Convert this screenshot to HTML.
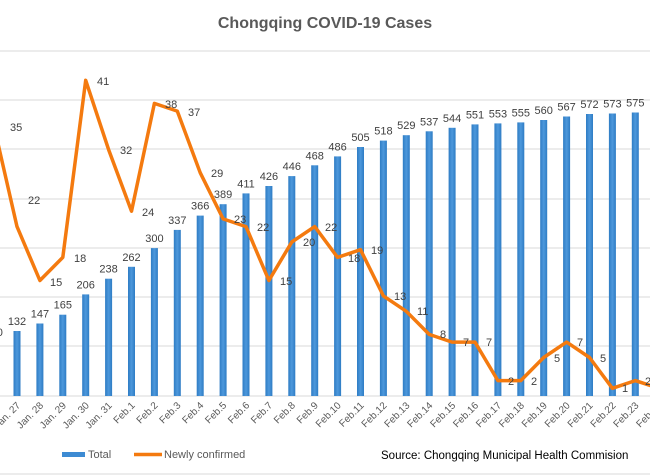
<!DOCTYPE html>
<html><head><meta charset="utf-8"><style>
body{margin:0;background:#fff;}
svg{display:block;font-family:"Liberation Sans",sans-serif;}
.bl{font-size:11px;fill:#404040;text-anchor:middle;}
.ll{font-size:11px;fill:#404040;}
.xl{font-size:10px;fill:#595959;text-anchor:end;}
</style></head><body>
<svg width="650" height="475" viewBox="0 0 650 475">
<defs><linearGradient id="g" x1="0" x2="1"><stop offset="0" stop-color="#2e7cc4"/><stop offset="0.5" stop-color="#4d98dc"/><stop offset="1" stop-color="#2e7cc4"/></linearGradient></defs>
<text x="325" y="28" text-anchor="middle" font-size="16" font-weight="bold" fill="#595959">Chongqing  COVID-19 Cases</text>
<g stroke="#d9d9d9" stroke-width="1">
<line x1="0" x2="650" y1="51" y2="51"/><line x1="0" x2="650" y1="100" y2="100"/><line x1="0" x2="650" y1="149" y2="149"/><line x1="0" x2="650" y1="199" y2="199"/><line x1="0" x2="650" y1="248" y2="248"/><line x1="0" x2="650" y1="297" y2="297"/><line x1="0" x2="650" y1="346" y2="346"/><line x1="0" x2="650" y1="396" y2="396"/>
</g>
<g fill="url(#g)">
<rect x="-9.4" y="342" width="7" height="54"/>
<rect x="13.5" y="331" width="7" height="65"/>
<rect x="36.4" y="323.5" width="7" height="72.5"/>
<rect x="59.3" y="314.7" width="7" height="81.3"/>
<rect x="82.2" y="294.4" width="7" height="101.6"/>
<rect x="105.1" y="278.7" width="7" height="117.3"/>
<rect x="128" y="266.8" width="7" height="129.2"/>
<rect x="150.9" y="248.1" width="7" height="147.9"/>
<rect x="173.8" y="229.9" width="7" height="166.1"/>
<rect x="196.7" y="215.6" width="7" height="180.4"/>
<rect x="219.6" y="204.2" width="7" height="191.8"/>
<rect x="242.5" y="193.4" width="7" height="202.6"/>
<rect x="265.4" y="186" width="7" height="210"/>
<rect x="288.3" y="176.1" width="7" height="219.9"/>
<rect x="311.2" y="165.3" width="7" height="230.7"/>
<rect x="334.1" y="156.4" width="7" height="239.6"/>
<rect x="357" y="147" width="7" height="249"/>
<rect x="379.9" y="140.6" width="7" height="255.4"/>
<rect x="402.8" y="135.2" width="7" height="260.8"/>
<rect x="425.7" y="131.3" width="7" height="264.7"/>
<rect x="448.6" y="127.8" width="7" height="268.2"/>
<rect x="471.5" y="124.4" width="7" height="271.6"/>
<rect x="494.4" y="123.4" width="7" height="272.6"/>
<rect x="517.3" y="122.4" width="7" height="273.6"/>
<rect x="540.2" y="120" width="7" height="276"/>
<rect x="563.1" y="116.5" width="7" height="279.5"/>
<rect x="586" y="114" width="7" height="282"/>
<rect x="608.9" y="113.5" width="7" height="282.5"/>
<rect x="631.8" y="112.5" width="7" height="283.5"/>
<rect x="654.7" y="111.5" width="7" height="284.5"/>
</g>
<g class="bl">
<text x="-5.9" y="336">110</text>
<text x="17" y="325">132</text>
<text x="39.9" y="317.5">147</text>
<text x="62.8" y="308.7">165</text>
<text x="85.7" y="288.4">206</text>
<text x="108.6" y="272.7">238</text>
<text x="131.5" y="260.8">262</text>
<text x="154.4" y="242.1">300</text>
<text x="177.3" y="223.9">337</text>
<text x="200.2" y="209.6">366</text>
<text x="223.1" y="198.2">389</text>
<text x="246" y="187.4">411</text>
<text x="268.9" y="180">426</text>
<text x="291.8" y="170.1">446</text>
<text x="314.7" y="159.3">468</text>
<text x="337.6" y="150.4">486</text>
<text x="360.5" y="141">505</text>
<text x="383.4" y="134.6">518</text>
<text x="406.3" y="129.2">529</text>
<text x="429.2" y="125.3">537</text>
<text x="452.1" y="121.8">544</text>
<text x="475" y="118.4">551</text>
<text x="497.9" y="117.4">553</text>
<text x="520.8" y="116.4">555</text>
<text x="543.7" y="114">560</text>
<text x="566.6" y="110.5">567</text>
<text x="589.5" y="108">572</text>
<text x="612.4" y="107.5">573</text>
<text x="635.3" y="106.5">575</text>
</g>
<polyline fill="none" stroke="#f47a0f" stroke-width="3.5" stroke-linejoin="round" points="-5.9,126.5 17,226.6 39.9,280.5 62.8,257.4 85.7,80.3 108.6,149.6 131.5,211.2 154.4,103.4 177.3,111.1 200.2,172.7 223.1,218.9 246,226.6 268.9,280.5 291.8,242 314.7,226.6 337.6,257.4 360.5,249.7 383.4,295.9 406.3,311.3 429.2,334.4 452.1,342.1 475,342.1 497.9,380.6 520.8,380.6 543.7,357.5 566.6,342.1 589.5,357.5 612.4,388.3 635.3,380.6 658.2,388"/>
<g class="ll">
<text x="10" y="131">35</text>
<text x="28" y="204">22</text>
<text x="50" y="286">15</text>
<text x="74" y="262">18</text>
<text x="97" y="85">41</text>
<text x="120" y="154">32</text>
<text x="142" y="216">24</text>
<text x="165" y="108">38</text>
<text x="188" y="116">37</text>
<text x="211" y="177">29</text>
<text x="234" y="223">23</text>
<text x="257" y="231">22</text>
<text x="280" y="285">15</text>
<text x="303" y="246">20</text>
<text x="325" y="231">22</text>
<text x="348" y="262">18</text>
<text x="371" y="254">19</text>
<text x="394" y="300">13</text>
<text x="417" y="315">11</text>
<text x="440" y="338">8</text>
<text x="463" y="346">7</text>
<text x="486" y="346">7</text>
<text x="508" y="385">2</text>
<text x="531" y="385">2</text>
<text x="554" y="362">5</text>
<text x="577" y="346">7</text>
<text x="600" y="362">5</text>
<text x="622" y="392">1</text>
<text x="645" y="385">2</text>
</g>
<g class="xl">
<text transform="translate(21,406) rotate(-45)">Jan. 27</text>
<text transform="translate(43.9,406) rotate(-45)">Jan. 28</text>
<text transform="translate(66.8,406) rotate(-45)">Jan. 29</text>
<text transform="translate(89.7,406) rotate(-45)">Jan. 30</text>
<text transform="translate(112.6,406) rotate(-45)">Jan. 31</text>
<text transform="translate(135.5,406) rotate(-45)">Feb.1</text>
<text transform="translate(158.4,406) rotate(-45)">Feb.2</text>
<text transform="translate(181.3,406) rotate(-45)">Feb.3</text>
<text transform="translate(204.2,406) rotate(-45)">Feb.4</text>
<text transform="translate(227.1,406) rotate(-45)">Feb.5</text>
<text transform="translate(250,406) rotate(-45)">Feb.6</text>
<text transform="translate(272.9,406) rotate(-45)">Feb.7</text>
<text transform="translate(295.8,406) rotate(-45)">Feb.8</text>
<text transform="translate(318.7,406) rotate(-45)">Feb.9</text>
<text transform="translate(341.6,406) rotate(-45)">Feb.10</text>
<text transform="translate(364.5,406) rotate(-45)">Feb.11</text>
<text transform="translate(387.4,406) rotate(-45)">Feb.12</text>
<text transform="translate(410.3,406) rotate(-45)">Feb.13</text>
<text transform="translate(433.2,406) rotate(-45)">Feb.14</text>
<text transform="translate(456.1,406) rotate(-45)">Feb.15</text>
<text transform="translate(479,406) rotate(-45)">Feb.16</text>
<text transform="translate(501.9,406) rotate(-45)">Feb.17</text>
<text transform="translate(524.8,406) rotate(-45)">Feb.18</text>
<text transform="translate(547.7,406) rotate(-45)">Feb.19</text>
<text transform="translate(570.6,406) rotate(-45)">Feb.20</text>
<text transform="translate(593.5,406) rotate(-45)">Feb.21</text>
<text transform="translate(616.4,406) rotate(-45)">Feb.22</text>
<text transform="translate(639.3,406) rotate(-45)">Feb.23</text>
<text transform="translate(662.2,406) rotate(-45)">Feb.24</text>
</g>
<rect x="62" y="452" width="23" height="5" fill="#3d8bd3"/>
<text x="88" y="458" font-size="11" fill="#595959">Total</text>
<line x1="134" x2="162" y1="454.5" y2="454.5" stroke="#f47a0f" stroke-width="3.5"/>
<text x="164" y="458" font-size="11" fill="#595959">Newly confirmed</text>
<text x="381" y="459" font-size="11.5" fill="#000">Source: Chongqing Municipal Health Commision</text>
<line x1="0" x2="650" y1="474" y2="474" stroke="#d9d9d9"/>
</svg>
</body></html>
